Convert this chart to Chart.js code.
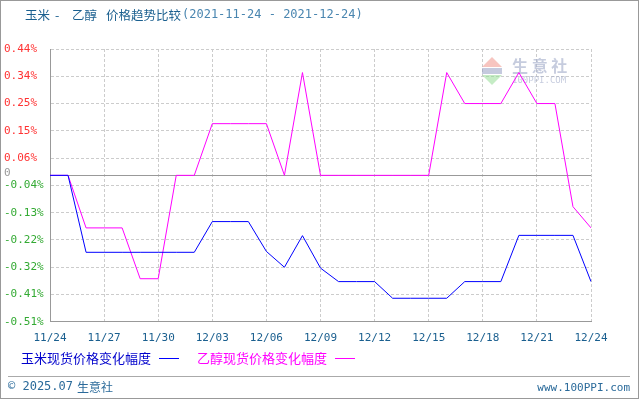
<!DOCTYPE html>
<html><head><meta charset="utf-8">
<script src="https://cdn.jsdelivr.net/npm/chart.js@4"></script>
<style>html,body{margin:0;padding:0;background:#fff}#w{position:relative;width:640px;height:400px}canvas{display:block}</style>
</head><body><div id="w"><canvas id="c" width="640" height="400"></canvas></div>
<script>
const dayLabels = ['11/24','11/25','11/26','11/27','11/28','11/29','11/30','12/01','12/02','12/03','12/04','12/05','12/06','12/07','12/08','12/09','12/10','12/11','12/12','12/13','12/14','12/15','12/16','12/17','12/18','12/19','12/20','12/21','12/22','12/23','12/24'];
const cornValues = [0,0,-0.268,-0.268,-0.268,-0.268,-0.268,-0.268,-0.268,-0.161,-0.161,-0.161,-0.265,-0.32,-0.21,-0.323,-0.37,-0.37,-0.37,-0.428,-0.428,-0.428,-0.428,-0.37,-0.37,-0.37,-0.209,-0.209,-0.209,-0.209,-0.37];
const ethanolValues = [0,0,-0.183,-0.183,-0.183,-0.36,-0.36,0,0,0.18,0.18,0.18,0.18,0,0.358,0,0,0,0,0,0,0,0.358,0.25,0.25,0.25,0.358,0.25,0.25,-0.109,-0.183];
const yTickValues = [-0.51,-0.415,-0.32,-0.225,-0.13,-0.035,0.06,0.155,0.25,0.345,0.44];
const yTickLabels = ['-0.51%','-0.41%','-0.32%','-0.22%','-0.13%','-0.04%','0.06%','0.15%','0.25%','0.34%','0.44%'];
const seriesNames = ['玉米现货价格变化幅度','乙醇现货价格变化幅度'];
const titleParts = ['玉米','-','乙醇','价格趋势比较'];
const titleDates = '(2021-11-24 - 2021-12-24)';

const cjk = '"Noto Sans CJK SC", sans-serif';
const mono = '"DejaVu Sans Mono", monospace';

const deco = {
  id:'deco',
  beforeDatasetsDraw(ch){
    const c=ch.ctx, y=ch.scales.y, a=ch.chartArea;
    c.save();
    c.fillStyle='rgba(240,150,140,0.55)';
    c.beginPath();c.moveTo(482,67);c.lineTo(492,57);c.lineTo(502,67);c.closePath();c.fill();
    c.fillStyle='rgba(140,150,190,0.5)';c.fillRect(482,68,20,6);
    c.fillStyle='rgba(150,220,150,0.55)';
    c.beginPath();c.moveTo(482,75);c.lineTo(502,75);c.lineTo(492,85);c.closePath();c.fill();
    c.fillStyle='rgba(160,170,200,0.6)';c.font='bold 16px '+cjk;c.textBaseline='middle';c.fillText('生 意 社',512,66);
    c.font='9px '+mono;c.fillText('100PPI.COM',512,81);
    const z=y.getPixelForValue(0);
    c.strokeStyle='#999';c.lineWidth=1;c.beginPath();c.moveTo(a.left,Math.round(z)+0.5);c.lineTo(a.right,Math.round(z)+0.5);c.stroke();
    c.restore();
  },
  afterDraw(ch){
    const c=ch.ctx, y=ch.scales.y;
    c.save();
    c.textBaseline='middle';c.textAlign='left';c.font='11px '+mono;
    yTickValues.forEach((v,i)=>{c.fillStyle=v>0?'#ff3333':'#33aa33';c.fillText(yTickLabels[i],4,y.getPixelForValue(v));});
    c.fillStyle='#999';c.fillText('0',4,y.getPixelForValue(0)-2);
    c.font='12.5px '+cjk;c.fillStyle='#1a5f8f';c.textBaseline='middle';
    const xs=[25,55,72,106];
    titleParts.forEach((t,i)=>c.fillText(t,xs[i],15));
    let w=c.measureText(titleParts[3]).width;
    c.font='12px '+mono;c.fillStyle='#4a86b0';c.fillText(titleDates,106+w+1,15);
    c.font='13px '+cjk;
    c.fillStyle='#0000cc';c.fillText(seriesNames[0],21,358);
    w=c.measureText(seriesNames[0]).width;
    c.strokeStyle='#0000ff';c.lineWidth=1;c.beginPath();c.moveTo(21+w+8,358.5);c.lineTo(21+w+28,358.5);c.stroke();
    c.fillStyle='#ff00ff';c.fillText(seriesNames[1],197,358);
    w=c.measureText(seriesNames[1]).width;
    c.strokeStyle='#ff00ff';c.beginPath();c.moveTo(197+w+8,358.5);c.lineTo(197+w+28,358.5);c.stroke();
    c.strokeStyle='#aaa';c.beginPath();c.moveTo(8,376.5);c.lineTo(630,376.5);c.stroke();
    c.font='12px '+mono;c.fillStyle='#2a6a9a';c.fillText('© 2025.07',8,387);
    c.font='12px '+cjk;c.fillText('生意社',77,387);
    c.font='11px '+mono;c.textAlign='right';c.fillText('www.100PPI.com',630,388);
    c.strokeStyle='#999';c.strokeRect(0.5,0.5,638,398);
    c.restore();
  }
};

new Chart(document.getElementById('c'),{
  type:'line',
  data:{labels:dayLabels,datasets:[
    {label:seriesNames[0],data:cornValues,borderColor:'#0000ff',borderWidth:1,pointRadius:0,tension:0},
    {label:seriesNames[1],data:ethanolValues,borderColor:'#ff00ff',borderWidth:1,pointRadius:0,tension:0}
  ]},
  options:{
    responsive:false,animation:false,events:[],
    layout:{padding:{left:50,right:49,top:49,bottom:45}},
    plugins:{legend:{display:false},tooltip:{enabled:false}},
    scales:{
      x:{type:'category',offset:false,
        grid:{color:c=>(c.index%3===0?'#cccccc':'transparent'),drawTicks:false},
        border:{display:true,color:'#999',dash:[3,2]},
        ticks:{autoSkip:false,maxRotation:0,padding:10,color:'#1a5f8f',font:{family:'DejaVu Sans Mono',size:11},
          callback:(v,i)=>i%3===0?dayLabels[i]:''}
      },
      y:{min:-0.51,max:0.44,
        afterBuildTicks:s=>{s.ticks=yTickValues.map(v=>({value:v}));},
        afterFit:s=>{s.width=0;},
        grid:{color:'#cccccc',drawTicks:false},
        border:{display:true,color:'#999',dash:[3,2]},
        ticks:{display:false}
      }
    }
  },
  plugins:[deco]
});
</script></body></html>
